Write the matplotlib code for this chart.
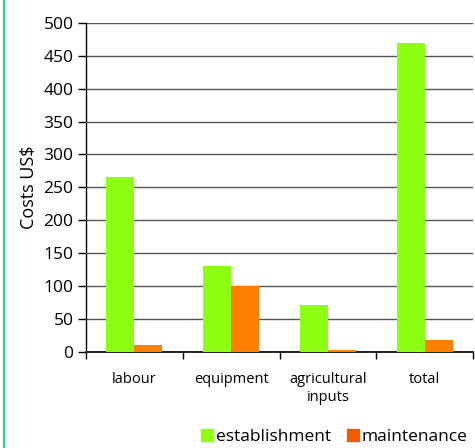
import matplotlib
matplotlib.use("Agg")
import matplotlib.pyplot as plt
import numpy as np
from matplotlib.lines import Line2D

# cost data (US$)
categories = ["labour", "equipment", "agricultural\ninputs", "total"]
establishment = [266, 130, 71, 469]
maintenance = [10, 100, 3, 17]

plt.rcParams["font.family"] = ["Open Sans", "DejaVu Sans"]

fig = plt.figure(figsize=(4.75, 4.48), dpi=100)
ax = fig.add_axes([86 / 475, 1 - 351.5 / 448, 387 / 475, 328.5 / 448])

x = np.arange(len(categories))
w = 0.29
ax.bar(x - w / 2, establishment, w, color="#8cff12", label="establishment", zorder=3)
ax.bar(x + w / 2, maintenance, w, color="#ff8000", label="maintenance", zorder=3)

ax.set_xlim(-0.5, len(categories) - 0.5)
ax.set_ylim(0, 500)
ax.set_yticks(range(0, 501, 50))
ax.yaxis.grid(True, color="#555555", linewidth=1)
ax.set_axisbelow(True)

ax.set_xticks(x)
ax.set_xticklabels(categories, fontsize=10.5, linespacing=1.25)
ax.set_xticks(np.arange(-0.5, len(categories)), minor=True)
ax.tick_params(axis="x", which="major", length=0, pad=15)
ax.tick_params(axis="x", which="minor", length=5, width=1, direction="out")
ax.tick_params(axis="y", length=6, width=1, labelsize=12.5, pad=3)

for s in ["top", "right"]:
    ax.spines[s].set_visible(False)
ax.spines["left"].set_linewidth(1)
ax.spines["bottom"].set_linewidth(1.2)
ax.set_ylabel("Costs US$", fontsize=13, labelpad=4)

handles = [
    Line2D([], [], marker="s", linestyle="none", markersize=9, color="#8cff12"),
    Line2D([], [], marker="s", linestyle="none", markersize=9, color="#f05a00"),
]
fig.legend(handles, ["establishment", "maintenance"], loc="center",
           bbox_to_anchor=(333 / 475, 1 - 437 / 448), ncol=2, frameon=False,
           fontsize=12.5, handletextpad=0.0, columnspacing=0.8, handlelength=1.0)

# green border line on the left edge
fig.add_artist(Line2D([4 / 475, 4 / 475], [0, 1], color="#20d890", linewidth=1.5,
                      transform=fig.transFigure))

fig.savefig("out.png", dpi=100)
